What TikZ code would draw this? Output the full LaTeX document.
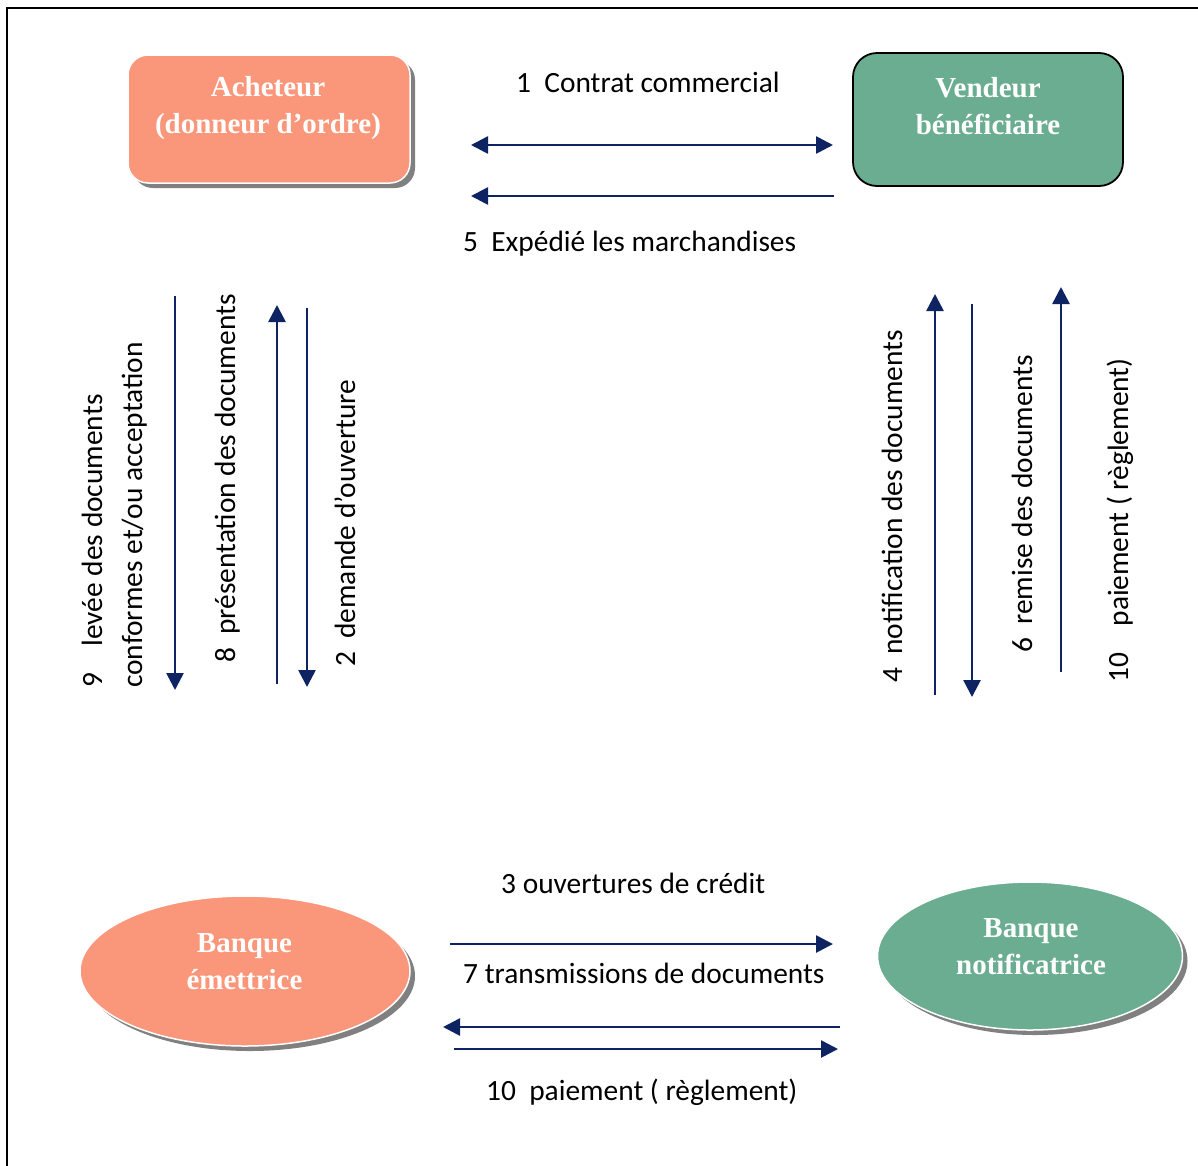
\documentclass[tikz,border=0pt]{standalone}
\usepackage{fontspec}
\setmainfont{Carlito}
\newfontfamily\partyfont{Liberation Serif}
\usetikzlibrary{shapes.geometric,shadows,arrows.meta}
\definecolor{salmon}{RGB}{250,150,122}
\definecolor{sage}{RGB}{106,173,145}
\definecolor{navy}{RGB}{14,36,98}
\definecolor{shade}{RGB}{128,128,128}
\begin{document}
\begin{tikzpicture}[x=1pt,y=-1pt,
  tip/.tip={Triangle[length=17pt,width=17pt]},
  flow/.style={draw=navy, line width=2.6pt, -tip},
  twoway/.style={draw=navy, line width=2.6pt, tip-tip},
  lbl/.style={font=\fontsize{29.4}{40}\selectfont, inner sep=0pt, anchor=base west},
  vlbl/.style={lbl, rotate=90},
  partytext/.style={font=\partyfont\bfseries\fontsize{29}{37}\selectfont, text=white, align=center, inner sep=0pt},
  pshadow/.style={drop shadow={shadow xshift=5pt, shadow yshift=-5pt, fill=shade, opacity=1}},
]
\useasboundingbox (0,0) rectangle (1198,1165);
\fill[white] (0,0) rectangle (1198,1165);

% page frame (only the left and top edges fall inside)
\draw[line width=2.6pt] (7,1170) -- (7,8) -- (1203,8);

% parties
\node[rectangle, rounded corners=20pt, fill=salmon, draw=white, line width=1.5pt,
      minimum width=282pt, minimum height=128pt, pshadow] (acheteur) at (269,119) {};
\node[partytext] (acheteurT) at (268,108.5) {Acheteur\\(donneur d’ordre)};

\node[rectangle, rounded corners=24pt, fill=sage, draw=black, line width=1.8pt,
      minimum width=270pt, minimum height=133pt] (vendeur) at (988,119.5) {};
\node[partytext] (vendeurT) at (988,106) {Vendeur\\bénéficiaire};

\node[ellipse, fill=salmon, draw=white, line width=1.5pt,
      minimum width=330pt, minimum height=150pt, pshadow] (emettrice) at (245,971) {};
\node[partytext] (emettriceT) at (244.5,961.5) {Banque\\émettrice};

\node[ellipse, fill=sage, draw=white, line width=1.5pt,
      minimum width=305pt, minimum height=148pt, pshadow] (notif) at (1030,956) {};
\node[partytext] (notifT) at (1031,947) {Banque\\notificatrice};

% arrow end points
\coordinate (a1l) at (471,145);  \coordinate (a1r) at (833,145);
\coordinate (a5r) at (834,196);  \coordinate (a5l) at (471,196);
\coordinate (a9t) at (175,296);  \coordinate (a9b) at (175,690);
\coordinate (a8b) at (277,684);  \coordinate (a8t) at (277,305);
\coordinate (a2t) at (307,308);  \coordinate (a2b) at (307,687);
\coordinate (a4b) at (935,695);  \coordinate (a4t) at (935,294);
\coordinate (a6t) at (972,304);  \coordinate (a6b) at (972,697);
\coordinate (a10b) at (1061,672); \coordinate (a10t) at (1061,287);
\coordinate (a3l) at (450,944);  \coordinate (a3r) at (833,944);
\coordinate (a7r) at (840,1027); \coordinate (a7l) at (443,1027);
\coordinate (b10l) at (454,1049); \coordinate (b10r) at (838,1049);

% flows
\draw[twoway] (a1l) -- (a1r);
\draw[flow] (a5r) -- (a5l);
\draw[flow] (a9t) -- (a9b);
\draw[flow] (a8b) -- (a8t);
\draw[flow] (a2t) -- (a2b);
\draw[flow] (a4b) -- (a4t);
\draw[flow] (a6t) -- (a6b);
\draw[flow] (a10b) -- (a10t);
\draw[flow] (a3l) -- (a3r);
\draw[flow] (a7r) -- (a7l);
\draw[flow] (b10l) -- (b10r);

% labels
\node[lbl] (t1) at (516,92) {1\ \ Contrat commercial};
\node[lbl] (t5) at (463,251) {5\ \ Expédié les marchandises};
\node[lbl] (t3) at (501,893) {3 ouvertures de crédit};
\node[lbl] (t7) at (463,983) {7 transmissions de documents};
\node[lbl] (t10b) at (486,1100) {10\ \ paiement ( règlement)};

\node[vlbl, align=left] (t9) at (142,688) {9\ \ \ \ levée des documents\\conformes et/ou acceptation};
\node[vlbl] (t8) at (235,663) {8\ \ présentation des documents};
\node[vlbl] (t2) at (355,667) {2\ \ demande d’ouverture};
\node[vlbl] (t4) at (902,683) {4\ \ notification des documents};
\node[vlbl] (t6) at (1032,653) {6\ \ remise des documents};
\node[vlbl] (t10a) at (1128,683) {10\ \ \ \ paiement ( règlement)};
\end{tikzpicture}
\end{document}
